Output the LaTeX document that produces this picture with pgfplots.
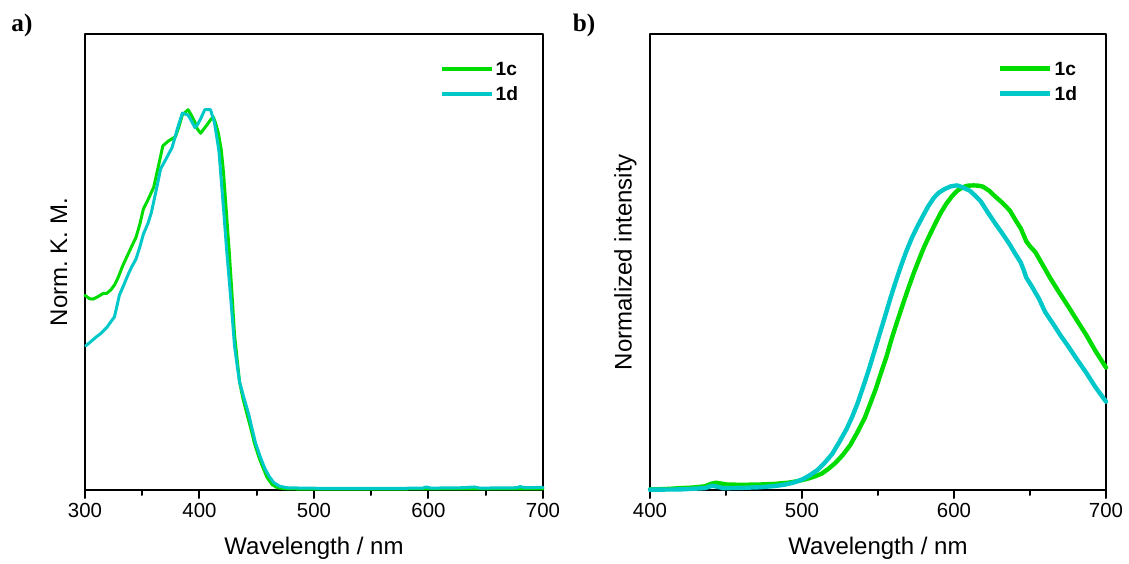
\documentclass[border=0pt]{standalone}
\usepackage{fontspec}
\setmainfont{Liberation Sans}
\newfontfamily\serifb{Liberation Serif}
\usepackage{pgfplots}
\pgfplotsset{compat=1.18}
\definecolor{cgreen}{RGB}{0,220,0}
\definecolor{ccyan}{RGB}{0,200,200}
\pgfplotsset{
  myax/.style={
    scale only axis, height=228pt, clip=false,
    axis line style={line width=1pt},
    tick align=outside, xtick pos=left, ytick=\empty,
    major tick length=4pt, minor tick length=2.5pt,
    every tick/.style={black, line width=1pt},
    minor x tick num=1,
    /pgf/number format/assume math mode=true,
    xticklabel style={font=\fontsize{10.2}{12}\selectfont, anchor=center, yshift=-6pt},
    xlabel style={font=\fontsize{12}{14}\selectfont, at={(axis description cs:0.5,-0.127)}, anchor=center},
    ylabel style={font=\fontsize{12}{14}\selectfont, anchor=center},
    legend style={draw=none, fill=none, inner sep=0pt, outer sep=0pt,
      font=\bfseries\fontsize{9.6}{11}\selectfont, row sep=3.5pt,
      nodes={inner sep=1pt, text height=7pt, text depth=0pt},
      /tikz/every even column/.append style={column sep=5pt}},
    legend cell align=left,
    line join=round, line cap=round,
  }
}
\begin{document}
\frenchspacing
\begin{tikzpicture}
\begin{axis}[myax, width=229pt, xmin=300, xmax=700, ymin=0, ymax=1.199,
  xtick={300,400,500,600,700},
  xlabel={Wavelength / nm}, ylabel={Norm. K. M.},
  ylabel style={at={(axis description cs:-0.057,0.5)}},
  legend style={at={(rel axis cs:0.95,0.944)}, anchor=north east},
  legend image code/.code={\draw[#1, line width=2pt] (0pt,0pt) -- (25pt,0pt);},
]
\coordinate (Aorig) at (rel axis cs:0,0);
\addplot[cgreen, line width=1.5pt] coordinates {
(300,0.512)(304,0.503)(307,0.502)(311,0.508)(316,0.517)(319,0.517)(322.5,0.526)(326,0.540)
(329,0.559)(333,0.590)(337,0.616)(341,0.642)(344.5,0.664)(348,0.700)(351,0.739)(355,0.763)
(360,0.796)(364,0.850)(368,0.905)(373,0.918)(379,0.929)(382,0.955)(385,0.986)(390,1.0)
(393,0.985)(396,0.967)(398,0.950)(401,0.938)(404,0.950)(407,0.962)(410,0.975)(412,0.981)
(414,0.965)(416.5,0.938)(419,0.895)(421,0.834)(423.5,0.730)(426,0.626)(428.5,0.510)(430.6,0.408)
(433,0.340)(435,0.284)(438,0.240)(441.5,0.199)(445,0.160)(448,0.123)(452,0.085)(455.7,0.057)
(459,0.033)(463.5,0.014)(468,0.006)(476,0.003)(500,0.002)(550,0.002)(600,0.003)(650,0.003)(700,0.003)};
\addlegendentry{1c}
\addplot[ccyan, line width=1.5pt] coordinates {
(300.6,0.379)(305,0.390)(310,0.403)(314,0.412)(319,0.427)(322,0.440)(325.7,0.455)(328,0.485)
(330,0.512)(334,0.540)(338,0.569)(341,0.588)(344.5,0.607)(348,0.640)(351,0.673)(355,0.701)
(358,0.730)(360,0.758)(363,0.800)(366,0.844)(371,0.872)(376,0.900)(380.5,0.948)(385,0.991)
(390,0.986)(393,0.970)(396,0.953)(398.5,0.962)(401,0.976)(404.6,1.0)(409.6,1.0)(413,0.967)
(415,0.930)(417,0.891)(419,0.815)(421,0.739)(423.5,0.640)(426,0.550)(428.5,0.460)(430.6,0.379)
(433,0.325)(435,0.284)(439,0.240)(443,0.199)(446,0.160)(449,0.123)(453,0.088)(457,0.057)
(461,0.035)(465,0.019)(470,0.010)(476,0.006)(490,0.005)(520,0.004)(560,0.004)(595,0.005)
(598,0.008)(602,0.005)(630,0.006)(640,0.008)(645,0.005)(677,0.006)(680,0.009)(684,0.006)(700,0.007)};
\addlegendentry{1d}
\node[font=\serifb\bfseries\fontsize{12.6}{14}\selectfont] at (axis description cs:-0.1376,1.0197) {a)};
\end{axis}
\begin{axis}[myax, width=228pt, at={(282.5pt,0pt)}, anchor=south west,
  xmin=400, xmax=700, ymin=0, ymax=1.497,
  xtick={400,500,600,700},
  xlabel={Wavelength / nm}, ylabel={Normalized intensity},
  ylabel style={at={(axis description cs:-0.054,0.5)}},
  legend style={at={(rel axis cs:0.941,0.944)}, anchor=north east},
  legend image code/.code={\draw[#1, line width=2.5pt] (0pt,0pt) -- (25pt,0pt);},
]
\addplot[cgreen, line width=2.2pt] coordinates {
(400,0.002)(410,0.003)(419.6,0.006)(428,0.008)(436,0.012)(440,0.020)(443.4,0.024)(447,0.021)
(450.6,0.018)(460,0.017)(472,0.018)(482,0.020)(491,0.024)(497,0.029)(503,0.036)(508,0.044)
(512.7,0.053)(517,0.068)(522,0.089)(527,0.116)(531.8,0.148)(536.5,0.190)(541.3,0.237)(545,0.285)
(548.5,0.331)(552,0.385)(555.6,0.438)(559,0.497)(562.8,0.556)(566.5,0.612)(570,0.663)(573.5,0.712)
(577,0.757)(580.5,0.800)(584.3,0.840)(588,0.878)(591.4,0.911)(595,0.940)(598.6,0.964)(602,0.982)
(605.8,0.994)(609,0.999)(613,1.0)(616,0.999)(619,0.996)(623,0.983)(627,0.964)(632,0.942)
(636.8,0.917)(640,0.890)(644,0.858)(646,0.835)(647.5,0.817)(650,0.800)(653.5,0.781)(658,0.742)
(663,0.698)(669,0.650)(675,0.604)(681,0.556)(687,0.509)(693,0.457)(700,0.402)};
\addlegendentry{1c}
\addplot[ccyan, line width=2.2pt] coordinates {
(400,0.001)(420,0.002)(436,0.006)(441,0.014)(445,0.010)(448,0.006)(460,0.007)(472,0.009)
(482,0.013)(489,0.018)(495,0.025)(500.7,0.036)(505,0.048)(510,0.065)(515,0.090)(519.8,0.118)
(524.5,0.157)(529.4,0.201)(533,0.240)(536.5,0.284)(540,0.335)(543.7,0.391)(547.3,0.450)(550.9,0.509)
(554.5,0.568)(558,0.627)(561.5,0.682)(565,0.734)(568.5,0.782)(572.3,0.828)(576,0.866)(579.5,0.899)
(583,0.931)(586.7,0.959)(590,0.976)(593.8,0.988)(598,0.997)(602,1.0)(606,0.993)(610.5,0.982)
(614,0.966)(617.7,0.947)(622,0.913)(627,0.876)(632,0.841)(636.8,0.805)(640,0.778)(644,0.746)
(646,0.720)(647.5,0.698)(651,0.670)(656,0.627)(660,0.584)(665.4,0.544)(670,0.508)(675,0.473)
(681,0.428)(687,0.385)(693,0.338)(700,0.290)};
\addlegendentry{1d}
\node[font=\serifb\bfseries\fontsize{12.6}{14}\selectfont] at (axis description cs:-0.1447,1.0197) {b)};
\end{axis}
\pgfresetboundingbox
\path (Aorig) ++(-42.5pt,-36.5pt) rectangle ++(564.5pt,281.5pt);
\end{tikzpicture}
\end{document}
